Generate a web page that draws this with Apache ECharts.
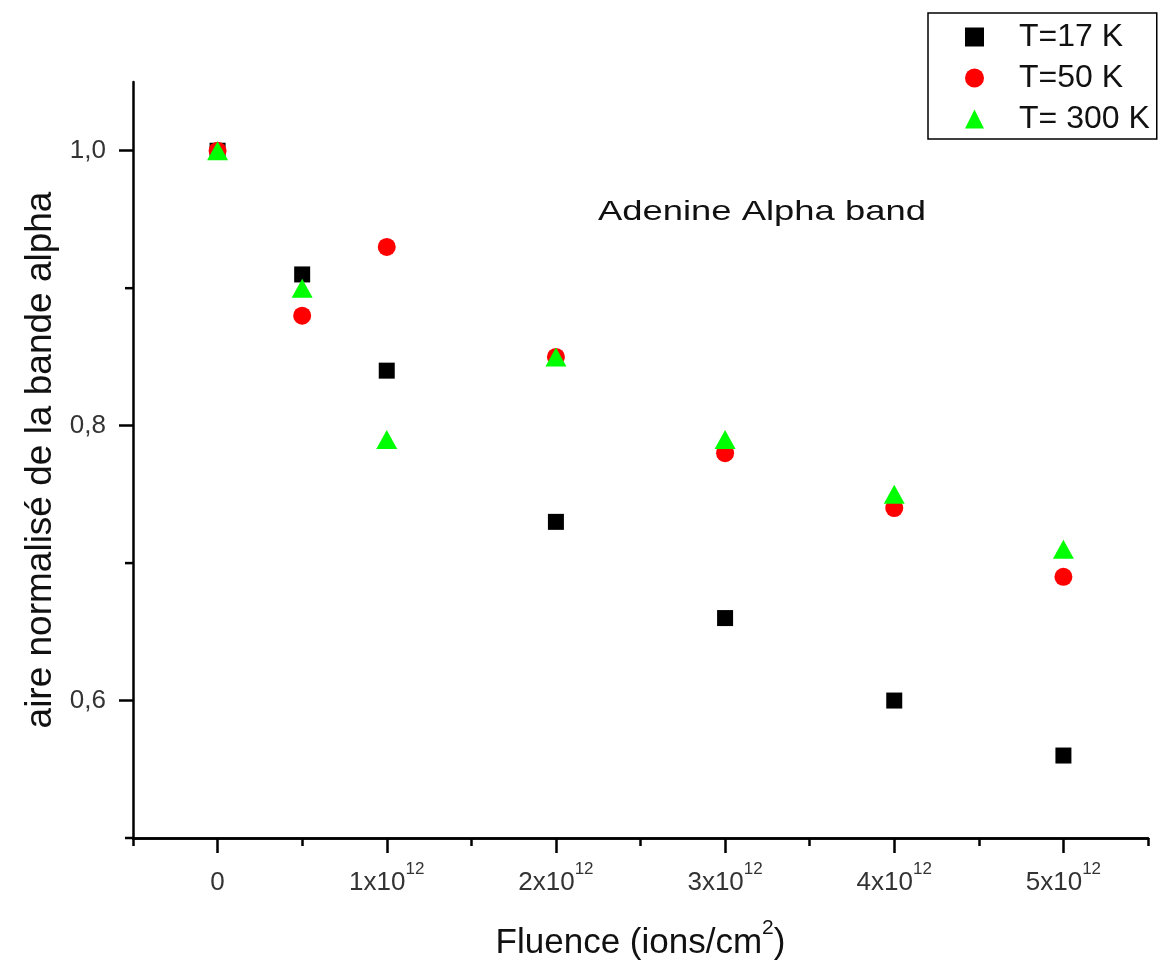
<!DOCTYPE html>
<html>
<head>
<meta charset="utf-8">
<script src="https://cdn.jsdelivr.net/npm/echarts@6/dist/echarts.min.js"></script>
<style>
html,body{margin:0;padding:0;background:#fff;}
#chart{width:1160px;height:970px;}
</style>
</head>
<body>
<div id="chart"></div>
<script>
// ---- data ----
const fluence = [0, 5e11, 1e12, 2e12, 3e12, 4e12, 5e12];
const t17  = [1.00, 0.91, 0.84, 0.73, 0.66, 0.60, 0.56];
const t50  = [1.00, 0.88, 0.93, 0.85, 0.78, 0.74, 0.69];
const t300 = [1.00, 0.90, 0.79, 0.85, 0.79, 0.75, 0.71];
const seriesNames = ['T=17 K', 'T=50 K', 'T= 300 K'];
const xMajorTicks = [0, 1e12, 2e12, 3e12, 4e12, 5e12];
const xMinorTicks = [-5e11, 5e11, 1.5e12, 2.5e12, 3.5e12, 4.5e12, 5.5e12];
const yMajorTicks = [0.6, 0.8, 1.0];
const yMinorTicks = [0.5, 0.7, 0.9];
const titleText = 'Adenine Alpha band';
const xName = 'Fluence (ions/cm';
const yName = 'aire normalisé de la bande alpha';

const FONT = '"Liberation Sans", Arial, sans-serif';
const pairs = arr => fluence.map((x, i) => [x, arr[i]]);

const chart = echarts.init(document.getElementById('chart'), null, {renderer: 'canvas'});

const xMin = -5e11, xMax = 5.5e12, yMin = 0.5, yMax = 1.05;
const axisLineStyle = {color: '#000', width: 2.5};
const titleGraphic = {
  type: 'text', id: 'title',
  x: 598, y: 212,
  scaleX: 1.3,
  style: {text: titleText, font: '28px ' + FONT, fill: '#111', textVerticalAlign: 'middle', textAlign: 'left'}
};

const option = {
  animation: false,
  backgroundColor: '#fff',
  grid: {left: 133, right: 12, top: 82, bottom: 132, containLabel: false, outerBoundsMode: 'none'},
  graphic: [titleGraphic],
  legend: {
    orient: 'vertical',
    left: 928, top: 13,
    padding: [8, 7, 4, 37],
    borderColor: '#000', borderWidth: 1.5,
    itemWidth: 19, itemHeight: 19, itemGap: 9,
    data: [
      {name: seriesNames[0], icon: 'rect'},
      {name: seriesNames[1], icon: 'circle'},
      {name: seriesNames[2], icon: 'triangle'}
    ],
    formatter: '{t|{name}}',
    textStyle: {fontSize: 32, fontFamily: FONT, color: '#111',
      rich: {t: {fontSize: 32, fontFamily: FONT, color: '#111', padding: [0, 0, 0, 30]}}}
  },
  xAxis: [{
    type: 'value', min: xMin, max: xMax,
    position: 'bottom',
    name: '{a|' + xName + '}{s|2}{a|)}',
    nameLocation: 'middle', nameGap: 80,
    nameTextStyle: {fontFamily: FONT, fontSize: 35, color: '#111',
      rich: {a: {fontFamily: FONT, fontSize: 35, color: '#111', padding: [8, 0, 0, 0]},
             s: {fontFamily: FONT, fontSize: 21, color: '#111', verticalAlign: 'top'}}},
    axisLine: {show: true, onZero: false, lineStyle: axisLineStyle},
    axisTick: {show: true, inside: false, length: 15, customValues: xMajorTicks, lineStyle: axisLineStyle},
    axisLabel: {
      show: true, margin: 23, customValues: xMajorTicks,
      formatter: v => v === 0 ? '{a|0}' : '{a|' + Math.round(v / 1e12) + 'x10}{s|12}',
      rich: {
        a: {fontFamily: FONT, fontSize: 26, color: '#333', padding: [9, 0, 0, 0]},
        s: {fontFamily: FONT, fontSize: 17, color: '#333', verticalAlign: 'top'}
      }
    },
    splitLine: {show: false}
  }, {
    type: 'value', min: xMin, max: xMax,
    position: 'bottom', offset: 0,
    axisLine: {show: true, onZero: false, lineStyle: axisLineStyle},
    axisTick: {show: true, inside: false, length: 8, customValues: xMinorTicks, lineStyle: axisLineStyle},
    axisLabel: {show: true, customValues: xMinorTicks, formatter: () => ''},
    splitLine: {show: false}
  }],
  yAxis: [{
    type: 'value', min: yMin, max: yMax,
    position: 'left',
    name: yName, nameLocation: 'middle', nameGap: 74,
    nameTextStyle: {fontFamily: FONT, fontSize: 37, color: '#111'},
    axisLine: {show: true, onZero: false, lineStyle: axisLineStyle},
    axisTick: {show: true, inside: false, length: 14, customValues: yMajorTicks, lineStyle: axisLineStyle},
    axisLabel: {
      show: true, margin: 27, customValues: yMajorTicks,
      formatter: v => v.toFixed(1).replace('.', ','),
      fontFamily: FONT, fontSize: 26, color: '#333'
    },
    splitLine: {show: false}
  }],
  series: [{
    name: seriesNames[0], type: 'scatter', xAxisIndex: 0, yAxisIndex: 0,
    symbol: 'rect', symbolSize: 16,
    itemStyle: {color: '#000', opacity: 1},
    data: pairs(t17)
  }, {
    name: seriesNames[1], type: 'scatter', xAxisIndex: 0, yAxisIndex: 0,
    symbol: 'circle', symbolSize: 18,
    itemStyle: {color: '#ff0000', opacity: 1},
    data: pairs(t50)
  }, {
    name: seriesNames[2], type: 'scatter', xAxisIndex: 0, yAxisIndex: 0,
    symbol: 'triangle', symbolSize: [21, 19],
    itemStyle: {color: '#00ff00', opacity: 1},
    data: pairs(t300)
  }]
};
chart.setOption(option);

// minor y-axis ticks, positioned through the axis scale
const axisX = chart.convertToPixel({xAxisIndex: 0}, xMin);
const minorTickGraphics = yMinorTicks.map((v, i) => {
  const py = chart.convertToPixel({yAxisIndex: 0}, v);
  return {
    type: 'line', id: 'yMinor' + i, z: 50,
    shape: {x1: axisX - 8, y1: py, x2: axisX, y2: py},
    style: {stroke: '#000', lineWidth: 2.5}
  };
});
chart.setOption({graphic: [titleGraphic].concat(minorTickGraphics)});
</script>
</body>
</html>
